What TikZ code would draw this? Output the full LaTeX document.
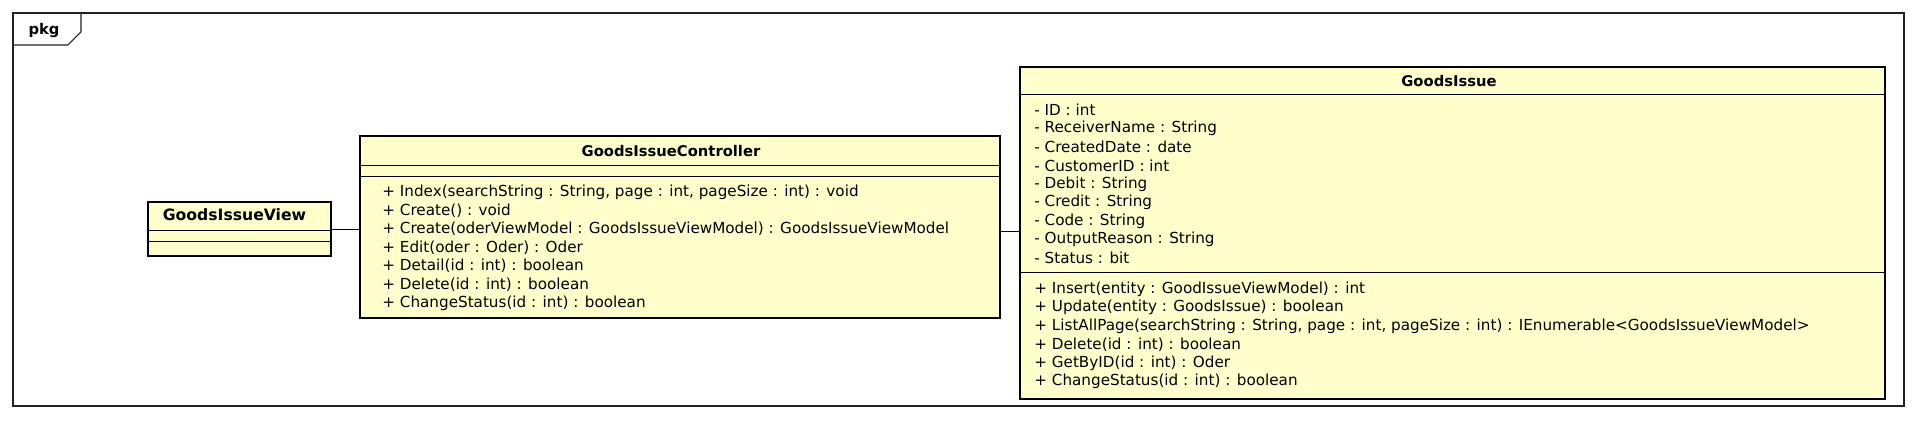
\documentclass[tikz,border=0pt]{standalone}
\usepackage{fontspec}
\setmainfont{DejaVu Sans}
\usepackage{xcolor}
\usepackage{tikz}
\usetikzlibrary{positioning}
\usetikzlibrary{calc}
\definecolor{classfill}{HTML}{FFFFCC}
\definecolor{framecolor}{HTML}{222222}

\tikzset{
  classbox/.style={draw=black,fill=classfill,line width=1.5pt,inner sep=0pt},
  classname/.style={font=\fontsize{8.4}{10}\selectfont\bfseries,inner sep=0pt},
  member/.style={font=\fontsize{8.65}{10}\selectfont,anchor=west,inner sep=0pt},
  sepline/.style={black,line width=0.5pt},
  assoc/.style={black,line width=0.5pt}
}

\begin{document}
\begin{tikzpicture}[x=0.02cm,y=-0.02cm]
\useasboundingbox (0,0) rectangle (1917,421);
% package frame
\draw[framecolor,line width=0.6pt] (13,13) rectangle (1904,406);
\draw[framecolor,line width=0.6pt] (13,45) -- (68,45) -- (81,32) -- (81,13);
\node[classname] (pkg) at (44,30) {pkg};

% classes
\node[classbox,minimum width=3.66cm,minimum height=1.08cm] (view) at (239.5,229) {};
\node[classbox,minimum width=12.8cm,minimum height=3.64cm] (ctrl) at (680,227) {};
\node[classbox,minimum width=17.3cm,minimum height=6.64cm] (issue) at (1452.5,233) {};

\node[classname,font=\fontsize{8.9}{10}\selectfont\bfseries] (viewname) at (234.5,215) {GoodsIssueView};
\draw[sepline] (148,230) -- (331,230);
\draw[sepline] (148,241) -- (331,241);

\node[classname] (ctrlname) at (671,151) {GoodsIssueController};
\draw[sepline] (360,165) -- (1000,165);
\draw[sepline] (360,176) -- (1000,176);
\foreach \m [count=\i from 0] in {%
    {+ Index(searchString : String, page : int, pageSize : int) : void},
    {+ Create() : void},
    {+ Create(oderViewModel : GoodsIssueViewModel) : GoodsIssueViewModel},
    {+ Edit(oder : Oder) : Oder},
    {+ Detail(id : int) : boolean},
    {+ Delete(id : int) : boolean},
    {+ ChangeStatus(id : int) : boolean}}
  \node[member] (ctrlop\i) at (382,{192+18.5*\i}) {\m};

\node[classname] (issuename) at (1449,81) {GoodsIssue};
\draw[sepline] (1020,94) -- (1885,94);
\draw[sepline] (1020,272) -- (1885,272);
\foreach \a [count=\i from 0] in {%
    {- ID : int},
    {- ReceiverName : String},
    {- CreatedDate : date},
    {- CustomerID : int},
    {- Debit : String},
    {- Credit : String},
    {- Code : String},
    {- OutputReason : String},
    {- Status : bit}}
  \node[member] (issueattr\i) at (1034,{110+18.5*\i}) {\a};
\foreach \m [count=\i from 0] in {%
    {+ Insert(entity : GoodIssueViewModel) : int},
    {+ Update(entity : GoodsIssue) : boolean},
    {+ ListAllPage(searchString : String, page : int, pageSize : int) : IEnumerable<GoodsIssueViewModel>},
    {+ Delete(id : int) : boolean},
    {+ GetByID(id : int) : Oder},
    {+ ChangeStatus(id : int) : boolean}}
  \node[member] (issueop\i) at (1034,{289+18.5*\i}) {\m};

% associations
\draw[assoc] (view.east) -- (view.east -| ctrl.west);
\draw[assoc] ([yshift=-0.08cm]ctrl.east) -- ([yshift=-0.08cm]ctrl.east -| issue.west);
\end{tikzpicture}
\end{document}
